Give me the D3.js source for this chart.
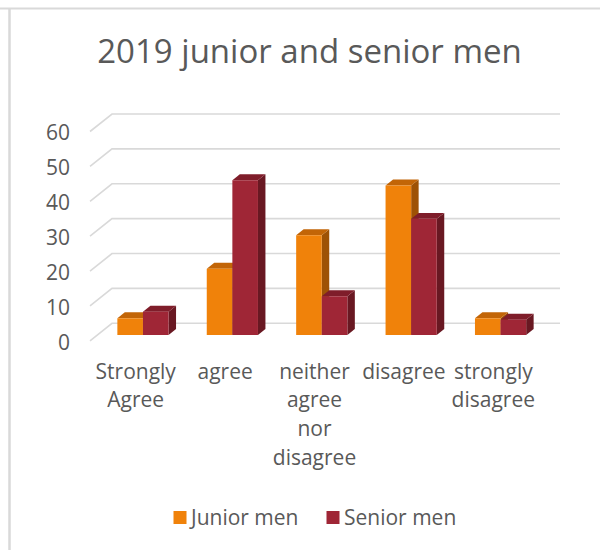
<!DOCTYPE html>
<html>
<head>
<meta charset="utf-8">
<script src="https://cdn.jsdelivr.net/npm/d3@7"></script>
<style>
  html, body { margin: 0; padding: 0; background: #fff; }
  svg { display: block; font-family: "Open Sans", "Noto Sans", sans-serif; }
</style>
</head>
<body>
<svg id="chart" width="600" height="550"></svg>
<script>
// Survey responses (percent of respondents)
const categories = ["Strongly Agree", "agree", "neither agree nor disagree", "disagree", "strongly disagree"];
const seriesNames = ["Junior men", "Senior men"];
const juniorMen = [4.8, 19.0, 28.6, 42.9, 4.8];
const seniorMen = [6.7, 44.4, 11.1, 33.3, 4.4];
const yTicks = [0, 10, 20, 30, 40, 50, 60];

const seriesValues = [juniorMen, seniorMen];
const palette = {
  "Junior men": { front: "#f0820a", top: "#c26507", side: "#9e5205" },
  "Senior men": { front: "#9f2636", top: "#7f1d2a", side: "#691822" }
};

const svg = d3.select("#chart");
const textColor = "#595959";
const gridColor = "#d9d9d9";
const fontStack = "'Open Sans', 'Noto Sans', sans-serif";

// chart area border (top and left edges)
svg.append("line").attr("x1", 0).attr("x2", 600).attr("y1", 8.5).attr("y2", 8.5)
  .attr("stroke", gridColor).attr("stroke-width", 2);
svg.append("line").attr("x1", 9.5).attr("x2", 9.5).attr("y1", 9).attr("y2", 550)
  .attr("stroke", gridColor).attr("stroke-width", 2.5);

// title
svg.append("text")
  .attr("x", 309.5).attr("y", 63)
  .attr("text-anchor", "middle")
  .attr("font-size", 33)
  .attr("fill", textColor)
  .text("2019 junior and senior men");

// oblique 3D projection: front plane plus a depth offset up and to the right
const DX = 22, DY = 17.5;
const x0 = d3.scaleBand().domain(categories).range([91, 538]).padding(0);
const x1 = d3.scaleBand().domain(seriesNames).range([0, x0.bandwidth()])
  .paddingInner(0).paddingOuter(0.746);
const y = d3.scaleLinear().domain([0, 60]).range([340.8, 131.5]);
const proj = (x, v, d) => [x + d * DX, y(v) - d * DY];

const plotLeft = x0.range()[0] - 1, plotRight = x0.range()[1];

// gridlines: left wall diagonal + back wall horizontal
const grid = svg.append("g");
yTicks.forEach(t => {
  const a = proj(plotLeft, t, 0), b = proj(plotLeft, t, 1), c = proj(plotRight, t, 1);
  grid.append("path")
    .attr("d", d3.line()([a, b, c]))
    .attr("fill", "none")
    .attr("stroke", gridColor)
    .attr("stroke-width", 1.6);
});

// y axis labels
const yAxis = d3.axisLeft(y).tickValues(yTicks).tickSize(0).tickPadding(0);
const gy = svg.append("g").attr("transform", "translate(70,1.5)").call(yAxis);
gy.select(".domain").remove();
gy.selectAll("text").attr("font-size", 21).attr("fill", textColor)
  .attr("font-family", fontStack);

// 3D bars
const d0 = 0.33, d1 = 0.67;
const bars = svg.append("g");
categories.forEach((cat, i) => {
  seriesNames.forEach((s, j) => {
    const v = seriesValues[j][i];
    const xl = x0(cat) + x1(s), xr = xl + x1.bandwidth();
    const col = palette[s];
    const g = bars.append("g");
    const fl0 = proj(xl, 0, d0), fr0 = proj(xr, 0, d0), flv = proj(xl, v, d0), frv = proj(xr, v, d0);
    const br0 = proj(xr, 0, d1), brv = proj(xr, v, d1), blv = proj(xl, v, d1);
    // side, top, then front face
    g.append("path").attr("d", d3.line()([fr0, br0, brv, frv]) + "Z").attr("fill", col.side);
    g.append("path").attr("d", d3.line()([flv, frv, brv, blv]) + "Z").attr("fill", col.top);
    g.append("path").attr("d", d3.line()([fl0, fr0, frv, flv]) + "Z").attr("fill", col.front);
  });
});

// category labels, one word per line
const xAxis = d3.axisBottom(x0).tickSize(0).tickPadding(0);
const gx = svg.append("g").attr("transform", "translate(0,357)").call(xAxis);
gx.select(".domain").remove();
gx.selectAll("text")
  .attr("font-size", 21).attr("fill", textColor)
  .attr("font-family", fontStack)
  .attr("dy", null).attr("y", 0)
  .each(function(d) {
    const t = d3.select(this);
    t.text(null);
    d.split(" ").forEach((w, k) => {
      t.append("tspan").attr("x", 0).attr("y", 21.5 + k * 28.7).text(w);
    });
  });

// legend
const legend = svg.append("g");
const legendX = [173.5, 326.5];
seriesNames.forEach((s, j) => {
  legend.append("rect").attr("x", legendX[j]).attr("y", 511).attr("width", 13).attr("height", 13)
    .attr("fill", palette[s].front);
  legend.append("text").attr("x", legendX[j] + 17.5).attr("y", 524.5)
    .attr("font-size", 21).attr("fill", textColor).text(s);
});
</script>
</body>
</html>
